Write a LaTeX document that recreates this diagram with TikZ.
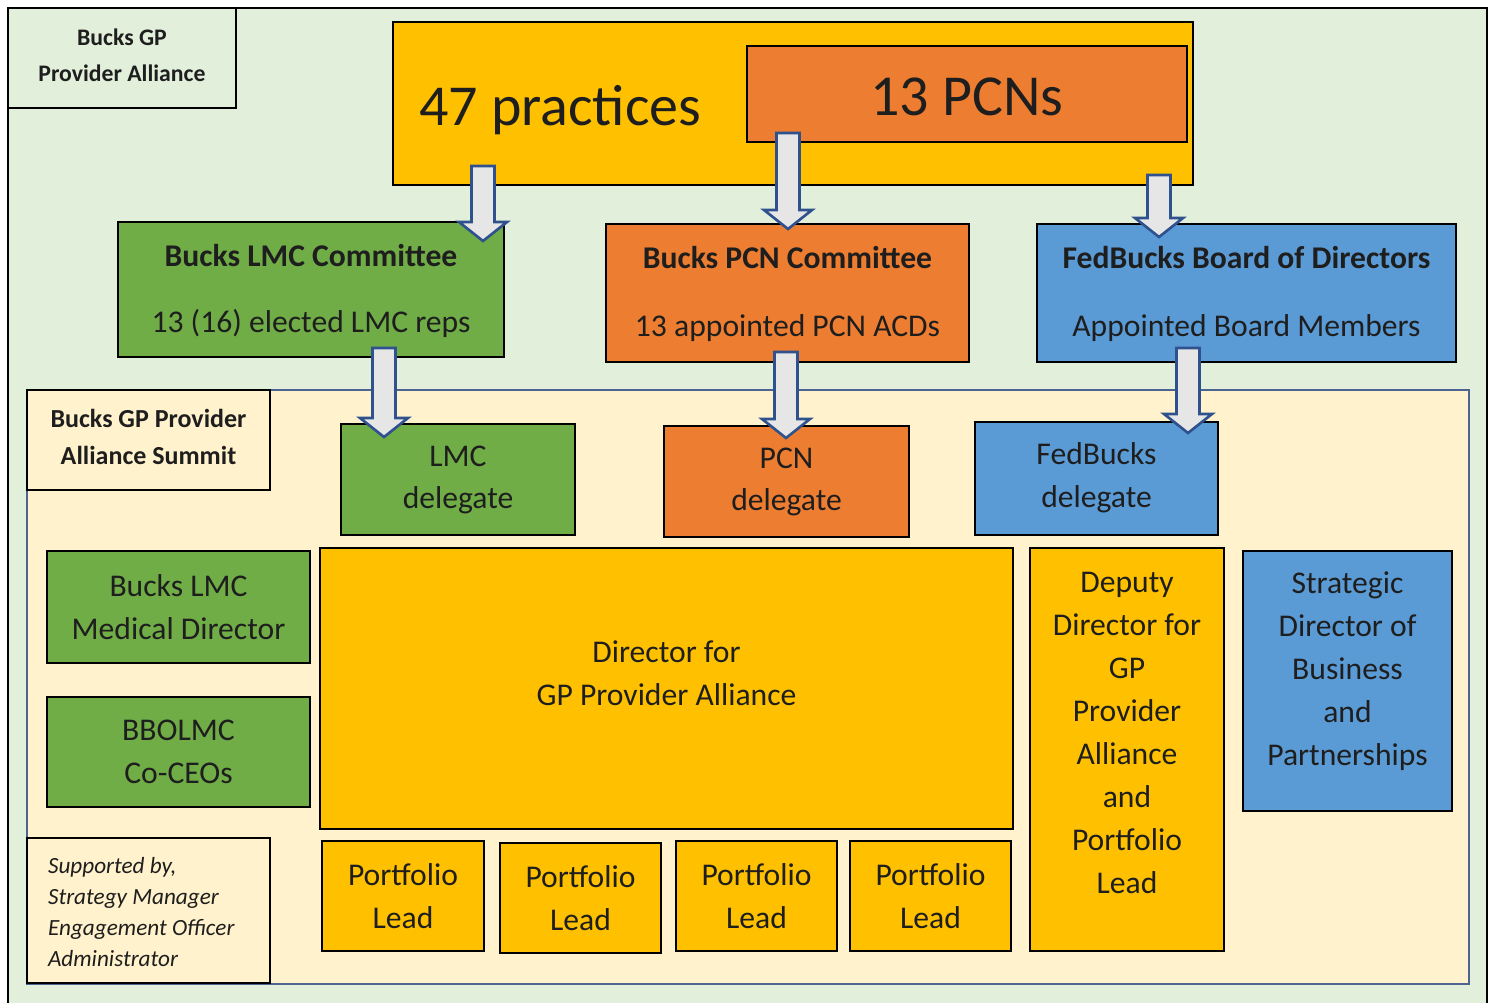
\documentclass[tikz,border=0pt]{standalone}
\usepackage{fontspec}
\setmainfont{Carlito}
\usetikzlibrary{calc}

\definecolor{bgreen}{HTML}{E2EFDA}
\definecolor{cream}{HTML}{FFF2CC}
\definecolor{gold}{HTML}{FFC000}
\definecolor{orng}{HTML}{ED7D31}
\definecolor{grn}{HTML}{70AD47}
\definecolor{blu}{HTML}{5B9BD5}
\definecolor{arrfill}{HTML}{E7E6E6}
\definecolor{arrline}{HTML}{2F528F}
\definecolor{summitline}{HTML}{4D6490}
\definecolor{ink}{HTML}{1E1E1E}

% box with corners (x1,y1)-(x2,y2); its text is centred at height ty
% #1 name, #2 x1, #3 y1, #4 x2, #5 y2, #6 style, #7 ty, #8 font, #9 text
\newcommand\orgbox[9]{%
  \pgfmathsetmacro\bcx{(#2+#4)/2}%
  \pgfmathsetmacro\bcy{(#3+#5)/2}%
  \pgfmathsetmacro\bwd{(#4-#2)*0.02}%
  \pgfmathsetmacro\bht{(#5-#3)*0.02}%
  \node[#6, minimum width=\bwd cm, minimum height=\bht cm] (#1) at (\bcx,\bcy) {};
  \node[boxtext, font=#8] (#1-t) at (\bcx,#7) {#9};
}

% wide block arrow pointing down, from (#1,#2) to its tip at (#1,#3)
\newcommand\blockarr[4]{%
  \coordinate (#4-top) at (#1,#2);
  \coordinate (#4-tip) at (#1,#3);
  \draw[blockarrow] ($(#4-top)+(-11.5,0)$) -- ($(#4-top)+(11.5,0)$)
    -- ($(#4-tip)+(11.5,-19)$) -- ($(#4-tip)+(24,-19)$) -- (#4-tip)
    -- ($(#4-tip)+(-24,-19)$) -- ($(#4-tip)+(-11.5,-19)$) -- cycle;
}

\newcommand\bodyfont{\fontsize{18}{24.4}\selectfont}

\tikzset{
  box/.style={draw=black, line width=1pt, inner sep=0pt},
  boxtext/.style={align=center, text=ink, inner sep=0pt},
  blockarrow/.style={draw=arrline, fill=arrfill, line width=1.5pt, line join=miter},
}

\begin{document}
\begin{tikzpicture}[x=0.02cm, y=-0.02cm]
\useasboundingbox (0,0) rectangle (1494,1003);
\clip (0,0) rectangle (1494,1003);
\fill[white] (0,0) rectangle (1494,1003);

% outer frame
\draw[fill=bgreen, line width=1.2pt] (8,8) rectangle (1487,1015);

% title
\orgbox{title}{8}{8}{236}{108}{box, fill=bgreen}{55}
  {\fontsize{13.5}{20.5}\selectfont\bfseries}{Bucks GP\\Provider Alliance}

% top level
\orgbox{practices}{393}{22}{1193}{185}{box, fill=gold}{110}{\bodyfont}{}
\node[text=ink, font=\fontsize{33}{34}\selectfont, anchor=west] (practices-l)
  at (413,110) {47 practices};
\orgbox{pcns}{747}{46}{1187}{142}{box, fill=orng}{97}
  {\fontsize{33}{34}\selectfont}{13 PCNs}

% committees
\orgbox{lmccom}{118}{222}{504}{357}{box, fill=grn}{291}
  {\fontsize{18}{37.4}\selectfont}
  {\textbf{Bucks LMC Committee}\\13 (16) elected LMC reps}
\orgbox{pcncom}{606}{224}{969}{362}{box, fill=orng}{294}
  {\fontsize{18}{38.5}\selectfont}
  {\textbf{Bucks PCN Committee}\\13 appointed PCN ACDs}
\orgbox{fedcom}{1037}{224}{1456}{362}{box, fill=blu}{294}
  {\fontsize{18}{38.5}\selectfont}
  {\textbf{FedBucks Board of Directors}\\Appointed Board Members}

% summit area
\draw[fill=cream, draw=summitline, line width=1.2pt] (27,390) rectangle (1469,984);
\orgbox{summitlbl}{27}{390}{270}{490}{box, fill=cream}{437}
  {\fontsize{14.8}{21}\selectfont\bfseries}{Bucks GP Provider\\Alliance Summit}

% delegates
\orgbox{lmcdel}{341}{424}{575}{535}{box, fill=grn}{480}{\bodyfont}{LMC\\delegate}
\orgbox{pcndel}{664}{426}{909}{537}{box, fill=orng}{482}{\bodyfont}{PCN\\delegate}
\orgbox{feddel}{975}{422}{1218}{535}{box, fill=blu}{478}{\bodyfont}{FedBucks\\delegate}

% left column
\orgbox{lmcmd}{47}{551}{310}{663}{box, fill=grn}{607}{\bodyfont}{Bucks LMC\\Medical Director}
\orgbox{ceos}{47}{697}{310}{807}{box, fill=grn}{752}{\bodyfont}{BBOLMC\\Co-CEOs}
\orgbox{support}{27}{838}{270}{983}{box, fill=cream}{912}
  {\fontsize{13.2}{17.6}\selectfont\itshape}
  {\begin{minipage}{4.02cm}\raggedright
   Supported by,\\Strategy Manager\\Engagement Officer\\Administrator\end{minipage}}

% directors
\orgbox{director}{320}{548}{1013}{829}{box, fill=gold}{673}{\bodyfont}
  {Director for\\GP Provider Alliance}
\orgbox{deputy}{1030}{548}{1224}{951}{box, fill=gold}{733}{\bodyfont}
  {Deputy\\Director for\\GP\\Provider\\Alliance\\and\\Portfolio\\Lead}
\orgbox{strategic}{1243}{551}{1452}{811}{box, fill=blu}{671}{\bodyfont}
  {Strategic\\Director of\\Business\\and\\Partnerships}

% portfolio leads
\orgbox{lead1}{322}{841}{484}{951}{box, fill=gold}{896}{\bodyfont}{Portfolio\\Lead}
\orgbox{lead2}{500}{843}{661}{953}{box, fill=gold}{898}{\bodyfont}{Portfolio\\Lead}
\orgbox{lead3}{676}{841}{837}{951}{box, fill=gold}{896}{\bodyfont}{Portfolio\\Lead}
\orgbox{lead4}{850}{841}{1011}{951}{box, fill=gold}{896}{\bodyfont}{Portfolio\\Lead}

% flow arrows
\blockarr{483}{166}{241}{a1}
\blockarr{788}{133}{229}{a2}
\blockarr{1159}{175}{237}{a3}
\blockarr{384}{348}{437}{a4}
\blockarr{786}{352}{438}{a5}
\blockarr{1188}{348}{433}{a6}
\end{tikzpicture}
\end{document}
